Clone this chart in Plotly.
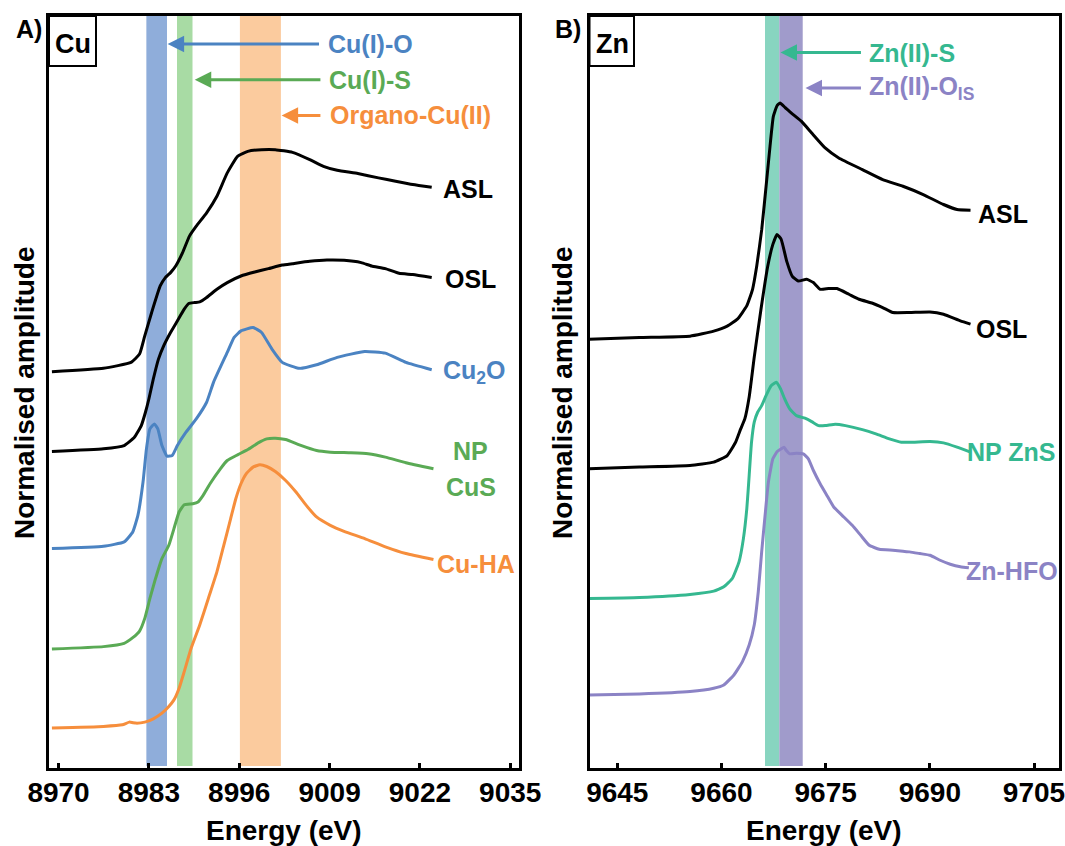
import plotly.graph_objects as go

W, H = 1065, 846
FONT = "Liberation Sans, Arial, sans-serif"

# ---------------- Cu K-edge (panel A) ----------------
cu_asl_e = [8969.05, 8976.47, 8980.43, 8981.66, 8982.41, 8983.40, 8984.63, 8985.37, 8986.12, 8986.86,
            8987.85, 8988.84, 8989.82, 8991.31, 8992.79, 8994.28, 8995.76, 8997.24, 8999.22, 9001.20,
            9003.67, 9006.15, 9008.12, 9010.10, 9013.07, 9016.04, 9018.51, 9020.98, 9023.70]
cu_asl_a = [3.973, 4.007, 4.067, 4.15, 4.333, 4.567, 4.833, 4.917, 4.967, 5.033,
            5.167, 5.333, 5.433, 5.567, 5.733, 5.967, 6.133, 6.183, 6.2, 6.2,
            6.173, 6.1, 6.033, 5.993, 5.96, 5.917, 5.883, 5.85, 5.823]

cu_osl_e = [8969.05, 8976.47, 8979.44, 8980.92, 8981.91, 8982.51, 8983.0, 8983.64, 8984.38, 8985.13,
            8986.12, 8987.10, 8988.09, 8988.74, 8989.58, 8990.32, 8991.31, 8992.79, 8994.28, 8996.25,
            8998.23, 9000.21, 9002.19, 9003.67, 9006.15, 9008.62, 9011.09, 9013.56, 9015.05, 9017.03,
            9019.0, 9020.98, 9023.70]
cu_osl_a = [3.173, 3.2, 3.233, 3.317, 3.433, 3.567, 3.7, 3.9, 4.1, 4.233,
            4.367, 4.483, 4.6, 4.657, 4.667, 4.673, 4.717, 4.8, 4.867, 4.933,
            4.973, 5.007, 5.043, 5.057, 5.08, 5.093, 5.09, 5.067, 5.033, 5.007,
            4.96, 4.947, 4.917]

cu2o_e = [8969.05, 8976.47, 8979.44, 8980.68, 8981.42, 8982.16, 8982.65, 8983.15, 8983.79, 8984.29,
          8984.88, 8985.62, 8986.36, 8987.10, 8988.34, 8989.82, 8991.31, 8992.30, 8994.28, 8995.27,
          8996.25, 8997.99, 8999.22, 9000.71, 9002.19, 9004.66, 9007.13, 9010.10, 9014.06, 9017.03,
          9019.99, 9023.70]
cu2o_a = [2.2, 2.223, 2.267, 2.367, 2.533, 2.867, 3.2, 3.4, 3.45, 3.4,
          3.233, 3.127, 3.133, 3.233, 3.367, 3.5, 3.667, 3.867, 4.167, 4.317,
          4.383, 4.417, 4.367, 4.2, 4.067, 4.007, 4.043, 4.117, 4.177, 4.16,
          4.067, 3.993]

cus_e = [8969.05, 8976.47, 8979.44, 8980.68, 8981.66, 8982.41, 8983.15, 8983.89, 8984.88, 8985.87,
         8986.61, 8987.35, 8988.09, 8989.33, 8990.07, 8990.81, 8991.80, 8993.29, 8994.28, 8995.76,
         8997.24, 8998.73, 8999.96, 9001.20, 9002.68, 9004.66, 9007.13, 9009.11, 9012.08, 9014.55,
         9017.03, 9019.99, 9023.95]
cus_a = [1.193, 1.217, 1.25, 1.307, 1.373, 1.5, 1.7, 1.883, 2.1, 2.233,
         2.4, 2.567, 2.64, 2.65, 2.667, 2.733, 2.85, 3.0, 3.083, 3.14,
         3.193, 3.26, 3.3, 3.307, 3.293, 3.24, 3.183, 3.167, 3.16, 3.15,
         3.117, 3.06, 3.0]

cuha_e = [8969.05, 8976.47, 8979.19, 8980.18, 8981.17, 8982.41, 8983.64, 8984.88, 8985.87, 8986.61,
          8987.35, 8988.09, 8989.08, 8990.32, 8991.56, 8992.79, 8993.78, 8994.77, 8995.51, 8996.25,
          8997.0, 8997.99, 8998.97, 8999.96, 9001.20, 9002.68, 9004.17, 9005.65, 9007.13, 9009.11,
          9011.09, 9014.06, 9017.03, 9019.99, 9023.95]
cuha_a = [0.4, 0.417, 0.433, 0.46, 0.45, 0.46, 0.493, 0.55, 0.617, 0.683,
          0.8, 0.967, 1.2, 1.433, 1.7, 1.967, 2.233, 2.5, 2.7, 2.85,
          2.95, 3.017, 3.04, 3.023, 2.973, 2.883, 2.767, 2.633, 2.517, 2.433,
          2.373, 2.3, 2.217, 2.15, 2.09]

# ---------------- Zn K-edge (panel B) ----------------
zn_asl_e = [9640.88, 9648.18, 9655.47, 9658.88, 9660.83, 9662.29, 9663.64, 9664.48, 9665.08, 9665.80,
            9666.52, 9666.99, 9667.47, 9668.0, 9668.43, 9669.2, 9670.07, 9671.53, 9672.99, 9674.93,
            9676.89, 9680.29, 9683.21, 9686.13, 9689.05, 9691.97, 9693.92, 9695.86]
zn_asl_a = [4.3, 4.317, 4.33, 4.38, 4.43, 4.50, 4.633, 4.80, 5.033, 5.40,
            5.90, 6.233, 6.533, 6.64, 6.667, 6.62, 6.567, 6.483, 6.367, 6.217,
            6.117, 6.0, 5.9, 5.833, 5.75, 5.65, 5.6, 5.593]

zn_osl_e = [9640.88, 9648.18, 9655.47, 9658.88, 9660.83, 9662.04, 9662.77, 9663.36, 9663.99, 9664.72,
            9665.69, 9666.67, 9667.40, 9668.0, 9668.6, 9669.4, 9670.2, 9671.05, 9672.26, 9673.24,
            9674.21, 9675.43, 9676.64, 9678.35, 9679.81, 9681.75, 9683.21, 9684.67, 9687.10, 9690.02,
            9691.97, 9694.40, 9695.86]
zn_osl_a = [3.0, 3.017, 3.033, 3.067, 3.133, 3.267, 3.4, 3.5, 3.72, 4.12,
            4.60, 5.033, 5.25, 5.35, 5.30, 5.08, 4.93, 4.883, 4.9, 4.867,
            4.8, 4.807, 4.807, 4.75, 4.7, 4.66, 4.617, 4.567, 4.567, 4.573,
            4.55, 4.483, 4.45]

zns_e = [9640.88, 9648.18, 9655.47, 9658.88, 9660.34, 9661.56, 9662.53, 9663.16, 9663.65, 9663.99,
         9664.33, 9664.72, 9665.21, 9665.79, 9666.42, 9667.15, 9667.88, 9668.52, 9669.10, 9669.83,
         9670.80, 9672.02, 9672.99, 9673.97, 9674.94, 9676.40, 9677.86, 9680.29, 9682.24, 9684.18,
         9685.89, 9687.59, 9690.02, 9691.97, 9693.92, 9695.86]
zns_a = [1.7, 1.71, 1.74, 1.773, 1.817, 1.9, 2.067, 2.3, 2.6, 2.933,
         3.267, 3.467, 3.567, 3.633, 3.733, 3.833, 3.867, 3.8, 3.7, 3.6,
         3.533, 3.507, 3.473, 3.433, 3.433, 3.447, 3.433, 3.393, 3.35, 3.3,
         3.267, 3.267, 3.273, 3.26, 3.217, 3.167]

znhfo_e = [9640.88, 9648.18, 9655.47, 9658.88, 9660.34, 9661.80, 9663.02, 9663.99, 9664.72, 9665.30,
           9665.79, 9666.28, 9666.76, 9667.40, 9668.03, 9668.61, 9669.00, 9669.34, 9669.83, 9670.80,
           9671.78, 9672.51, 9673.24, 9674.21, 9675.18, 9676.16, 9677.37, 9678.83, 9680.05, 9681.27,
           9682.73, 9684.67, 9686.13, 9687.10, 9688.56, 9690.02, 9691.48, 9692.94, 9694.40, 9695.62]
znhfo_a = [0.733, 0.743, 0.767, 0.8, 0.833, 0.933, 1.067, 1.233, 1.433, 1.767,
           2.167, 2.533, 2.867, 3.1, 3.173, 3.2, 3.217, 3.183, 3.15, 3.157,
           3.15, 3.1, 2.983, 2.85, 2.733, 2.617, 2.533, 2.433, 2.333, 2.233,
           2.193, 2.183, 2.173, 2.167, 2.15, 2.133, 2.083, 2.043, 2.017, 2.007]

cu_ticks = [8970, 8983, 8996, 9009, 9022, 9035]
zn_ticks = [9645, 9660, 9675, 9690, 9705]

# species bands (energy ranges)
cu_bands = [("Cu(I)-O", 8982.64, 8985.61), ("Cu(I)-S", 8987.05, 8989.28), ("Organo-Cu(II)", 8996.1, 9002.0)]
zn_bands = [("Zn(II)-S", 9666.27, 9668.33), ("Zn(II)-O<sub>IS</sub>", 9668.33, 9671.7)]

C_BLACK = "#000000"
C_BLUE = "#4B83C2"
C_GREEN = "#5AAA55"
C_ORANGE = "#F68E3C"
C_TEAL = "#35B890"
C_PURPLE = "#8B83C5"
B_BLUE = "#8FADDA"
B_GREEN = "#A8DBA4"
B_ORANGE = "#FBCB9E"
B_TEAL = "#88D5C0"
B_PURPLE = "#A09BCB"

fig = go.Figure()

def add_line(x, y, color, xa, ya):
    fig.add_trace(go.Scatter(x=x, y=y, mode="lines", line=dict(color=color, width=3, shape="spline", smoothing=0.4),
                             xaxis=xa, yaxis=ya, showlegend=False, hoverinfo="skip"))

add_line(cu_asl_e, cu_asl_a, C_BLACK, "x", "y")
add_line(cu_osl_e, cu_osl_a, C_BLACK, "x", "y")
add_line(cu2o_e, cu2o_a, C_BLUE, "x", "y")
add_line(cus_e, cus_a, C_GREEN, "x", "y")
add_line(cuha_e, cuha_a, C_ORANGE, "x", "y")

add_line(zn_asl_e, zn_asl_a, C_BLACK, "x2", "y2")
add_line(zn_osl_e, zn_osl_a, C_BLACK, "x2", "y2")
add_line(zns_e, zns_a, C_TEAL, "x2", "y2")
add_line(znhfo_e, znhfo_a, C_PURPLE, "x2", "y2")

YMIN, YMAX = 0.02, 7.545
shapes = []
for (name, e0, e1), col in zip(cu_bands, [B_BLUE, B_GREEN, B_ORANGE]):
    shapes.append(dict(type="rect", xref="x", yref="y", x0=e0, x1=e1, y0=YMIN, y1=YMAX,
                       fillcolor=col, line=dict(width=0), layer="below"))
for (name, e0, e1), col in zip(zn_bands, [B_TEAL, B_PURPLE]):
    shapes.append(dict(type="rect", xref="x2", yref="y2", x0=e0, x1=e1, y0=YMIN, y1=YMAX,
                       fillcolor=col, line=dict(width=0), layer="below"))

def px(xp):
    return xp / W

def py(yp):
    return 1 - yp / H

# element tag boxes
shapes.append(dict(type="rect", xref="paper", yref="paper", x0=px(49), x1=px(96), y0=py(66), y1=py(16),
                   line=dict(color="black", width=2), fillcolor="white", layer="above"))
shapes.append(dict(type="rect", xref="paper", yref="paper", x0=px(589.5), x1=px(634), y0=py(66), y1=py(16),
                   line=dict(color="black", width=2), fillcolor="white", layer="above"))

ann = []

def label(x, y, text, color, xr="x", yr="y", xanchor="left", size=25):
    ann.append(dict(x=x, y=y, xref=xr, yref=yr, text="<b>" + text + "</b>", showarrow=False,
                    xanchor=xanchor, yanchor="middle", font=dict(family=FONT, size=size, color=color)))

def arrow(tip, tail, y, color, xr, yr):
    ann.append(dict(x=tip, y=y, ax=tail, ay=y, xref=xr, yref=yr, axref=xr, ayref=yr, text="",
                    showarrow=True, arrowhead=2, arrowsize=1.1, arrowwidth=3, arrowcolor=color, standoff=0))

# Cu species arrows and labels
arrow(8985.7, 9007.7, 7.26, C_BLUE, "x", "y")
label(9008.5, 7.26, "Cu(I)-O", C_BLUE)
arrow(8989.6, 9007.9, 6.90, C_GREEN, "x", "y")
label(9008.6, 6.90, "Cu(I)-S", C_GREEN)
arrow(9002.1, 9007.9, 6.543, C_ORANGE, "x", "y")
label(9008.8, 6.543, "Organo-Cu(II)", C_ORANGE)

# Zn species arrows and labels
arrow(9668.5, 9680.3, 7.173, C_TEAL, "x2", "y2")
label(9681.0, 7.173, "Zn(II)-S", C_TEAL, "x2", "y2")
arrow(9672.1, 9680.3, 6.817, C_PURPLE, "x2", "y2")
label(9681.0, 6.817, "Zn(II)-O<sub>IS</sub>", C_PURPLE, "x2", "y2")

# curve labels
label(9025.0, 5.81, "ASL", C_BLACK)
label(9025.3, 4.90, "OSL", C_BLACK)
label(9025.0, 3.97, "Cu<sub>2</sub>O", C_BLUE)
label(9029.3, 3.18, "NP", C_GREEN, xanchor="center")
label(9029.3, 2.82, "CuS", C_GREEN, xanchor="center")
label(9024.2, 2.05, "Cu-HA", C_ORANGE)

label(9696.7, 5.55, "ASL", C_BLACK, "x2", "y2")
label(9696.3, 4.40, "OSL", C_BLACK, "x2", "y2")
label(9695.0, 3.17, "NP ZnS", C_TEAL, "x2", "y2")
label(9694.9, 1.98, "Zn-HFO", C_PURPLE, "x2", "y2")

# panel letters and element tags
label(px(14), py(29), "A)", C_BLACK, "paper", "paper", size=25)
label(px(553), py(29), "B)", C_BLACK, "paper", "paper", size=25)
label(px(73), py(44), "Cu", C_BLACK, "paper", "paper", xanchor="center", size=27)
label(px(612), py(44), "Zn", C_BLACK, "paper", "paper", xanchor="center", size=27)

# axis titles
for cx in [284, 824]:
    ann.append(dict(x=px(cx), y=py(830), xref="paper", yref="paper", text="<b>Energy (eV)</b>",
                    showarrow=False, xanchor="center", yanchor="middle",
                    font=dict(family=FONT, size=28, color="black")))
for cx in [24, 562]:
    ann.append(dict(x=px(cx), y=py(393), xref="paper", yref="paper", text="<b>Normalised amplitude</b>",
                    showarrow=False, xanchor="center", yanchor="middle", textangle=-90,
                    font=dict(family=FONT, size=28, color="black")))

xax_common = dict(showline=True, linecolor="black", linewidth=3, mirror=True, ticks="inside",
                  ticklen=5, tickwidth=2.5, tickcolor="black", showgrid=False, zeroline=False,
                  automargin=False, ticklabelstandoff=-3, ticklabeloverflow="allow",
                  tickfont=dict(family=FONT, size=28, color="black", weight="bold"))
yax_common = dict(showline=True, linecolor="black", linewidth=3, mirror=True, ticks="",
                  automargin=False,
                  showticklabels=False, showgrid=False, zeroline=False, range=[0, YMAX])

fig.update_layout(
    width=W, height=H, margin=dict(l=0, r=0, t=0, b=0, autoexpand=False),
    paper_bgcolor="white", plot_bgcolor="white",
    xaxis=dict(domain=[px(49), px(519)], range=[8968.63, 9036.26], tickvals=cu_ticks, anchor="y", **xax_common),
    yaxis=dict(domain=[py(768), py(15.5)], anchor="x", **yax_common),
    xaxis2=dict(domain=[px(589.5), px(1059)], range=[9641.0, 9708.6], tickvals=zn_ticks, anchor="y2", **xax_common),
    yaxis2=dict(domain=[py(768), py(15.5)], anchor="x2", **yax_common),
    shapes=shapes, annotations=ann,
)

fig.write_html("out.html")
